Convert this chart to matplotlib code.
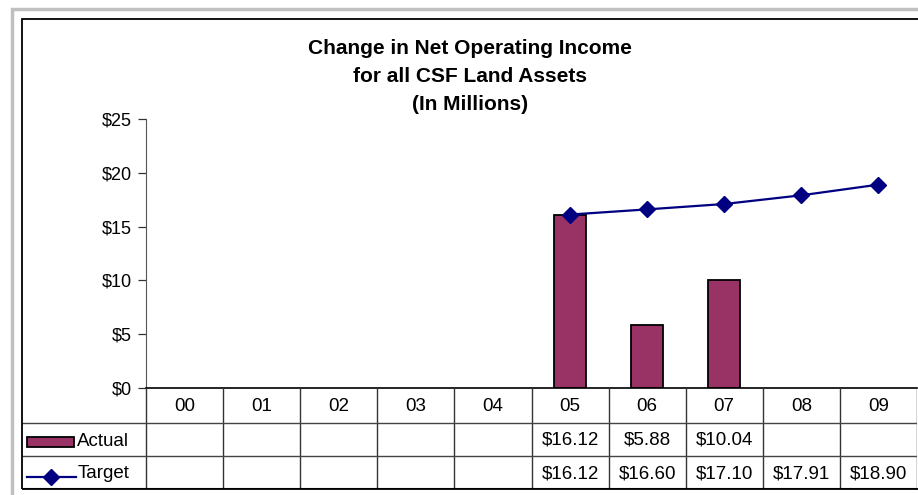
import numpy as np
import matplotlib
matplotlib.use("Agg")
import matplotlib.pyplot as plt
from matplotlib.patches import Rectangle

plt.rcParams['font.family'] = ['Liberation Sans', 'DejaVu Sans']

years = ["00", "01", "02", "03", "04", "05", "06", "07", "08", "09"]
actual = [None, None, None, None, None, 16.12, 5.88, 10.04, None, None]
target = [None, None, None, None, None, 16.12, 16.60, 17.10, 17.91, 18.90]
yticks = [0, 5, 10, 15, 20, 25]

BAR = "#993366"
NAVY = "#000080"

W, H = 918, 495
fig = plt.figure(figsize=(W / 100, H / 100), dpi=100)


def fx(px):
    return px / W


def fy(py):
    return 1 - py / H


# outer frames
fig.patches.append(Rectangle((fx(12), fy(600)), fx(1000), fy(9) - fy(600),
                             transform=fig.transFigure, fill=False,
                             edgecolor="#c0c0c0", lw=2.5))
fig.patches.append(Rectangle((fx(22), fy(489)), fx(1000), fy(19) - fy(489),
                             transform=fig.transFigure, fill=False,
                             edgecolor="black", lw=1.3))

left, right, top, bottom = 146, 917, 119, 388
ax = fig.add_axes([fx(left), fy(bottom), fx(right) - fx(left), fy(top) - fy(bottom)])

x = np.arange(len(years))
t_vals = np.array([np.nan if v is None else v for v in target])
bx = [i for i, v in enumerate(actual) if v is not None]
bv = [actual[i] for i in bx]

ax.bar(bx, bv, width=0.42, color=BAR, edgecolor="black", lw=1.3, zorder=2)
ax.plot(x, t_vals, color=NAVY, lw=1.6, marker="D", markersize=8, zorder=3)

ax.set_xlim(-0.5, len(years) - 0.5)
ax.set_ylim(0, 25)
ax.set_yticks(yticks)
ax.set_yticklabels(["$%d" % v for v in yticks], fontsize=13)
ax.set_xticks([])
ax.tick_params(axis="y", direction="out", length=6, width=0.9, color="#333333", pad=4)
for s in ["top", "right"]:
    ax.spines[s].set_visible(False)
ax.spines["left"].set_color("#555555")
ax.spines["bottom"].set_color("black")
ax.spines["bottom"].set_linewidth(1.2)

title_font = dict(ha="center", va="center", fontsize=15, fontweight="bold")
fig.text(fx(470), fy(48), "Change in Net Operating Income", **title_font)
fig.text(fx(470), fy(77), "for all CSF Land Assets", **title_font)
fig.text(fx(470), fy(105), "(In Millions)", **title_font)

# data table under the axes
tleft, tbottom = 22, 489
unit = (right - left) / len(years)
tax = fig.add_axes([fx(tleft), fy(tbottom), fx(right) - fx(tleft), fy(bottom) - fy(tbottom)])
tax.set_xlim(-0.5 - (left - tleft) / unit, len(years) - 0.5)
rows = [bottom, 423, 456, tbottom]
tax.set_ylim(tbottom, bottom)
tax.axis("off")

for k in range(len(years) + 1):
    tax.plot([k - 0.5, k - 0.5], [bottom, tbottom], color="#333333", lw=1.0)
x0 = tax.get_xlim()[0]
for r in rows[1:3]:
    tax.plot([x0, len(years) - 0.5], [r, r], color="#444444", lw=1.0)
tax.plot([x0, len(years) - 0.5], [tbottom, tbottom], color="black", lw=1.5)

fs = 13.5
for i, yr in enumerate(years):
    tax.text(i, (rows[0] + rows[1]) / 2 + 1, yr, ha="center", va="center", fontsize=fs)
    if actual[i] is not None:
        tax.text(i, (rows[1] + rows[2]) / 2 + 1, "$%.2f" % actual[i], ha="center", va="center", fontsize=fs)
    if target[i] is not None:
        tax.text(i, (rows[2] + rows[3]) / 2 + 1, "$%.2f" % target[i], ha="center", va="center", fontsize=fs)

# legend keys in the first column
kx0 = x0 + 5 / unit
kx1 = x0 + 52 / unit
tax.add_patch(Rectangle((kx0, 437), kx1 - kx0, 10, facecolor=BAR, edgecolor="black", lw=1.3))
tax.text(kx1 + 3 / unit, 441, "Actual", ha="left", va="center", fontsize=fs)
tax.plot([kx0, kx1 + 2 / unit], [477, 477], color=NAVY, lw=1.6)
tax.plot([(kx0 + kx1) / 2], [477], marker="D", color=NAVY, markersize=8)
tax.text(kx1 + 4 / unit, 474, "Target", ha="left", va="center", fontsize=fs)

fig.savefig("out.png", dpi=100)
